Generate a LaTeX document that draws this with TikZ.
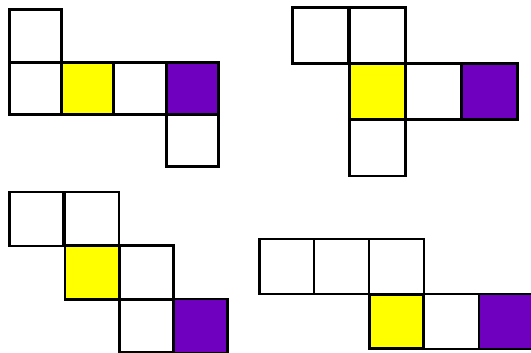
\documentclass[tikz,border=0pt]{standalone}
\definecolor{netyellow}{RGB}{255,255,0}
\definecolor{netpurple}{RGB}{112,0,192}
\begin{document}
\begin{tikzpicture}[x=1pt,y=-1pt,
  cell/.style={draw=black,line width=2.8pt,fill=white,inner sep=0pt,outer sep=0pt,minimum size=#1},
  cell/.default=53pt,
  yel/.style={fill=netyellow},
  pur/.style={fill=netpurple}]
\useasboundingbox (0,0) rectangle (531,353);
% net 1
\node[cell=52.5pt] (a1) at (35.5,36) {};
\node[cell=52.5pt] (a2) at (35.5,88.5) {};
\node[cell=52.5pt,yel] (a3) at (88,88.5) {};
\node[cell=52.5pt] (a4) at (140,88.5) {};
\node[cell=52.5pt,pur] (a5) at (192.5,88.5) {};
\node[cell=52.5pt] (a6) at (192.5,140.5) {};
% net 2
\node[cell=56.5pt] (b1) at (320.5,35.5) {};
\node[cell=56.5pt] (b2) at (377.5,35.5) {};
\node[cell=56.5pt,yel] (b3) at (377.5,91.5) {};
\node[cell=56pt] (b4) at (433.5,91.5) {};
\node[cell=56.5pt,pur] (b5) at (489.5,91.5) {};
\node[cell=56pt] (b6) at (377.5,148) {};
% net 3
\node[cell=54pt] (c1) at (36.5,219) {};
\node[cell=54pt] (c2) at (92,219) {};
\node[cell=54pt,yel] (c3) at (92,272.5) {};
\node[cell=53.5pt] (c4) at (146.5,272.5) {};
\node[cell=53.5pt] (c5) at (146.5,326) {};
\node[cell=54pt,pur] (c6) at (200.5,326) {};
% net 4
\node[cell=55pt] (d1) at (287,266.5) {};
\node[cell=55pt] (d2) at (341.5,266.5) {};
\node[cell=55pt] (d3) at (396.5,266.5) {};
\node[cell=54pt,yel] (d4) at (396.5,321.5) {};
\node[cell=55pt] (d5) at (451.5,321.5) {};
\node[cell=55pt,pur] (d6) at (506.5,321.5) {};
\end{tikzpicture}
\end{document}
